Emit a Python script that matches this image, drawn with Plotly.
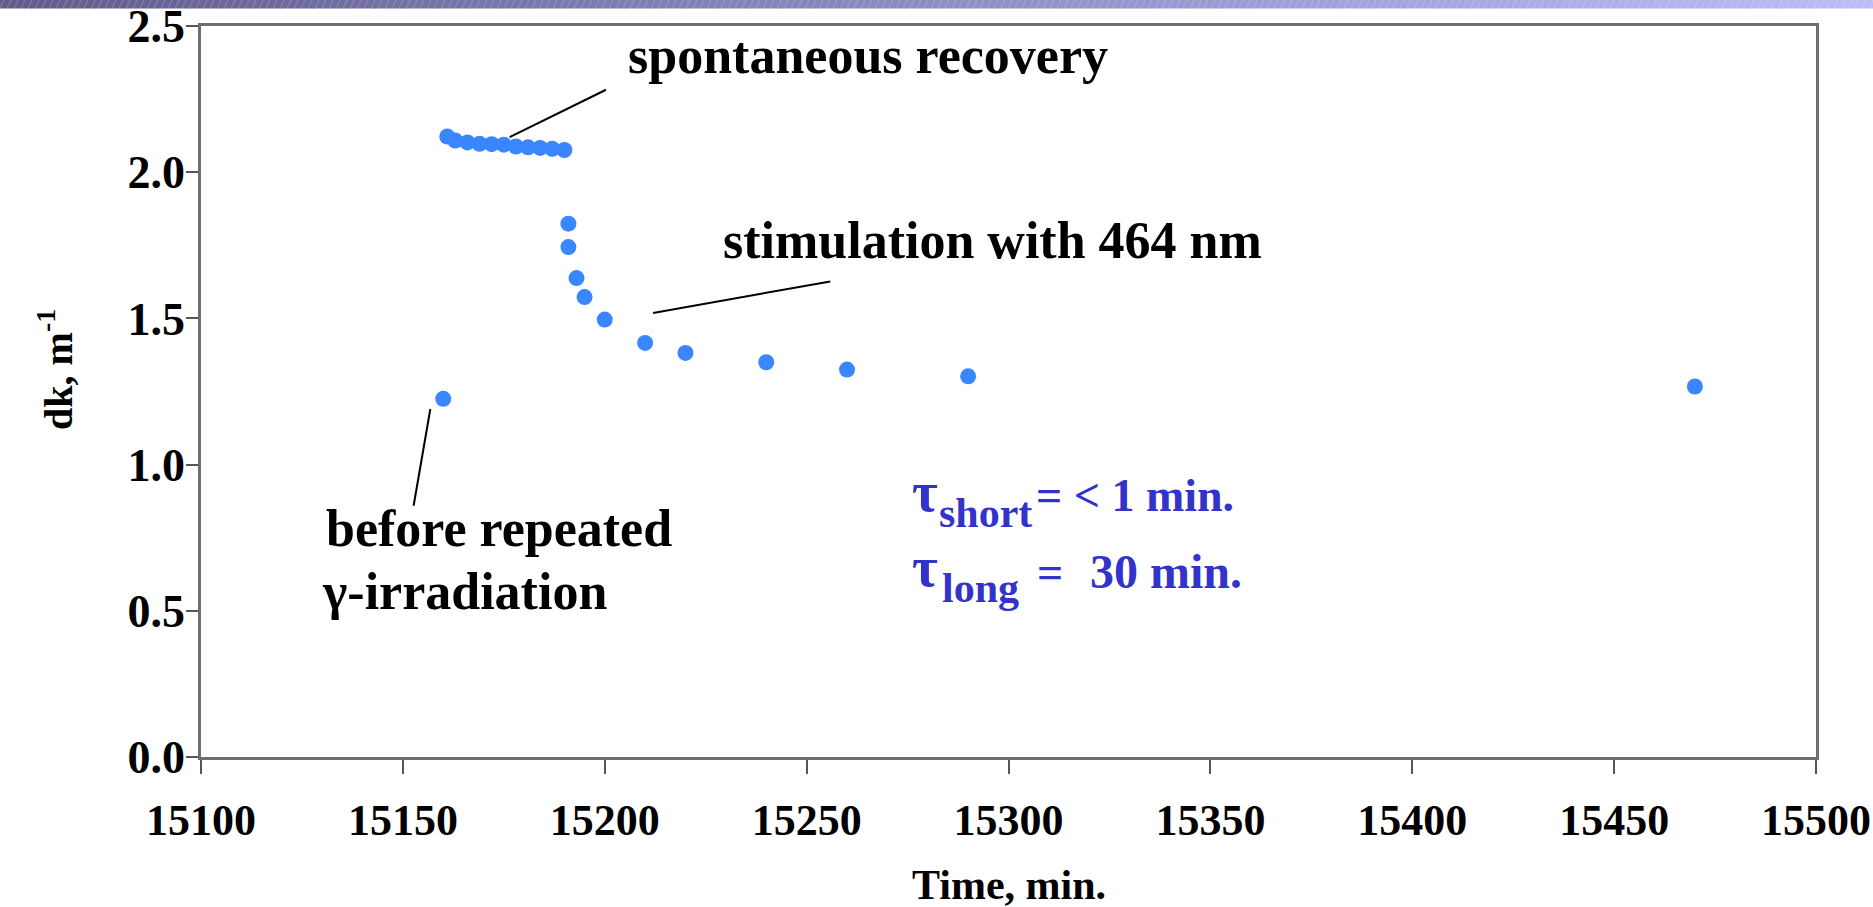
import plotly.graph_objects as go

# Measurements: time (min) and induced absorption dk (1/m)
before_time = [15160]
before_dk = [1.225]

recovery_time = [15161, 15163, 15166, 15169, 15172, 15175, 15178, 15181, 15184, 15187, 15190]
recovery_dk = [2.122, 2.108, 2.102, 2.097, 2.096, 2.094, 2.088, 2.085, 2.083, 2.080, 2.076]

stim_time = [15191, 15191, 15193, 15195, 15200, 15210, 15220, 15240, 15260, 15290, 15470]
stim_dk = [1.824, 1.744, 1.638, 1.573, 1.496, 1.416, 1.382, 1.350, 1.325, 1.302, 1.267]

x_ticks = [15100, 15150, 15200, 15250, 15300, 15350, 15400, 15450, 15500]
y_ticks = [0.0, 0.5, 1.0, 1.5, 2.0, 2.5]

SERIF = "Liberation Serif, Times New Roman, serif"
DOT = "#3a86ff"
TAU = "#3333cc"

W, H = 1873, 907
M = dict(l=201, r=57, t=26, b=150)

fig = go.Figure()
for t, v in [(before_time, before_dk), (recovery_time, recovery_dk), (stim_time, stim_dk)]:
    fig.add_trace(go.Scatter(
        x=t, y=v, mode="markers",
        marker=dict(color=DOT, size=16, line=dict(width=0)),
        showlegend=False, hoverinfo="x+y",
    ))

axis_common = dict(
    showgrid=False, zeroline=False, showline=True, mirror=True,
    linecolor="#6e6e6e", linewidth=2.5,
    ticks="outside", tickcolor="#555555", tickwidth=1.5,
    automargin=False,
)

fig.update_xaxes(range=[15100, 15500], tickvals=x_ticks, tickformat="d", ticklen=14,
                 ticklabelstandoff=8, ticklabeloverflow="allow",
                 tickfont=dict(family=SERIF, size=44, color="black", weight="bold"),
                 **axis_common)
fig.update_yaxes(range=[0, 2.5], tickvals=y_ticks, tickformat=".1f", ticklen=12,
                 ticklabelstandoff=-8,
                 tickfont=dict(family=SERIF, size=46, color="black", weight="bold"),
                 **axis_common)


def label(text, x, y, size, color="black", xref="x", yref="y", angle=0, xanchor="left"):
    fig.add_annotation(
        text=text, x=x, y=y, xref=xref, yref=yref, showarrow=False,
        xanchor=xanchor, yanchor="middle", textangle=angle,
        font=dict(family=SERIF, size=size, color=color, weight="bold"),
    )


# Callout texts
label("spontaneous recovery", 15205.35, 2.400, 52)
label("stimulation with 464 nm", 15228.75, 1.767, 52)
label("before repeated", 15130.37, 0.781, 52)
label("γ-irradiation", 15129.55, 0.566, 52)

# Time constants
label("τ", 15275.7, 0.905, 56, TAU)
label("short", 15282.3, 0.835, 42, TAU)
label("= &lt; 1 min.", 15306.2, 0.893, 46, TAU)
label("τ", 15275.7, 0.650, 56, TAU)
label("long", 15283.0, 0.579, 42, TAU)
label("=", 15306.5, 0.631, 46, TAU)
label("30 min.", 15319.8, 0.633, 48, TAU)

# Axis titles
label("Time, min.", 0.5, -0.175, 42, xref="paper", yref="paper", xanchor="center")
label("dk, m<sup>-1</sup>", -0.0902, 0.53, 40, xref="paper", yref="paper",
      angle=-90, xanchor="center")

# Leader lines from callouts to the data
leaders = [
    (15176.44, 2.120, 15200.31, 2.282),
    (15211.96, 1.5185, 15255.85, 1.6265),
    (15156.80, 1.1902, 15152.66, 0.8594),
]
for x0, y0, x1, y1 in leaders:
    fig.add_shape(type="line", x0=x0, y0=y0, x1=x1, y1=y1, xref="x", yref="y",
                  line=dict(color="black", width=2))

# Header strip along the top edge: horizontal colour ramp with fine hatching
pw = W - M["l"] - M["r"]
ph = H - M["t"] - M["b"]
px_x = lambda p: (p - M["l"]) / pw
px_y = lambda p: 1 + (M["t"] - p) / ph
c0, c1 = (96, 92, 140), (188, 188, 248)
n = 60
for i in range(n):
    f = (i + 0.5) / n
    col = tuple(round(a + (b - a) * f) for a, b in zip(c0, c1))
    fig.add_shape(type="rect", xref="paper", yref="paper",
                  x0=px_x(W * i / n), x1=px_x(W * (i + 1) / n + 1),
                  y0=px_y(8.5), y1=px_y(-1),
                  fillcolor=f"rgb{col}", line=dict(width=0), layer="above")
hatch = []
for k in range(-2, W // 7 + 2):
    xb = k * 7
    hatch.append(f"M{px_x(xb)},{px_y(8.5)} L{px_x(xb + 4)},{px_y(0)}")
fig.add_shape(type="path", xref="paper", yref="paper", path=" ".join(hatch),
              line=dict(color="rgba(255,255,255,0.22)", width=1), layer="above")

fig.update_layout(
    width=W, height=H, margin=dict(**M, pad=0),
    paper_bgcolor="white", plot_bgcolor="white",
    font=dict(family=SERIF, color="black"),
)

fig.write_html("out.html", config={"displayModeBar": False})
